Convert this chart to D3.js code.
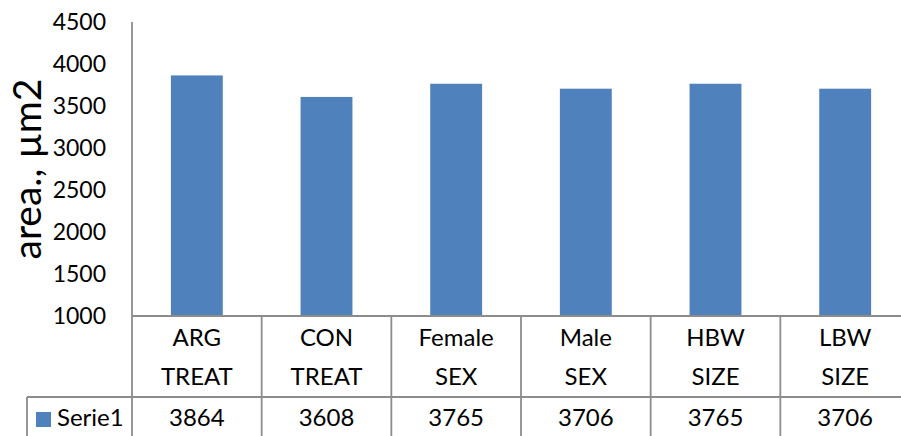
<!DOCTYPE html>
<html>
<head>
<meta charset="utf-8">
<script src="https://cdn.jsdelivr.net/npm/d3@7/dist/d3.min.js"></script>
<style>
  html, body { margin: 0; padding: 0; background: #fff; overflow: hidden; }
  svg text { font-family: Lato, "Open Sans", sans-serif; fill: #000; }
</style>
</head>
<body>
<svg id="chart" width="901" height="436"></svg>
<script>
// Bar labels (first line), factor names (second line) and mean areas
const categories = ["ARG", "CON", "Female", "Male", "HBW", "LBW"];
const factors = ["TREAT", "TREAT", "SEX", "SEX", "SIZE", "SIZE"];
const values = [3864, 3608, 3765, 3706, 3765, 3706];
const seriesName = "Serie1";
const yTicks = [1000, 1500, 2000, 2500, 3000, 3500, 4000, 4500];

const svg = d3.select("#chart");
const plotLeft = 132, plotRight = 910, plotTop = 22, plotBottom = 316;
const row1 = 397, tableBottom = 470;
const legendLeft = 27;
const gridColor = "#8c8c8c";
const barColor = "#4f81bd";
const labelSize = "24px";

const x = d3.scaleBand().domain(d3.range(categories.length)).range([plotLeft, plotRight]).paddingInner(0.6).paddingOuter(0.3);
const xCell = d3.scaleBand().domain(d3.range(categories.length)).range([plotLeft, plotRight]);
const y = d3.scaleLinear().domain([1000, 4500]).range([plotBottom, plotTop]);

// Bars
svg.append("g").selectAll("rect").data(values).join("rect")
  .attr("x", (d, i) => x(i))
  .attr("width", x.bandwidth())
  .attr("y", d => y(d))
  .attr("height", d => y(1000) - y(d))
  .attr("fill", barColor);

// Value axis with labels only
const yAxis = svg.append("g").attr("transform", `translate(${plotLeft},0)`)
  .call(d3.axisLeft(y).tickValues(yTicks).tickFormat(d3.format("d")).tickSize(0).tickPadding(26));
yAxis.select(".domain").remove();
yAxis.selectAll("text").style("font-size", "23px").style("font-family", "Lato, sans-serif");

// Axis title
svg.append("text")
  .attr("transform", `translate(41,${(plotTop + plotBottom) / 2}) rotate(-90)`)
  .attr("text-anchor", "middle")
  .style("font-size", "39px")
  .text("area., \u00b5m2");

// Data table lines
const lines = svg.append("g").attr("stroke", gridColor).attr("stroke-width", 1.8).attr("fill", "none");
lines.append("line").attr("x1", plotLeft).attr("x2", plotLeft).attr("y1", plotTop).attr("y2", tableBottom);
lines.append("line").attr("x1", plotLeft).attr("x2", plotRight).attr("y1", plotBottom).attr("y2", plotBottom);
lines.append("line").attr("x1", legendLeft).attr("x2", plotRight).attr("y1", row1).attr("y2", row1);
lines.append("line").attr("x1", legendLeft).attr("x2", legendLeft).attr("y1", row1).attr("y2", tableBottom);
lines.selectAll(".col").data(d3.range(1, categories.length + 1)).join("line")
  .attr("class", "col")
  .attr("x1", i => xCell(i - 1) + xCell.bandwidth())
  .attr("x2", i => xCell(i - 1) + xCell.bandwidth())
  .attr("y1", plotBottom).attr("y2", tableBottom);

// Category labels (two lines) and values row
const cells = svg.append("g").selectAll("g").data(categories).join("g")
  .attr("transform", (d, i) => `translate(${xCell(i) + xCell.bandwidth() / 2},0)`)
  .attr("text-anchor", "middle")
  .style("font-size", labelSize);
cells.append("text").attr("y", 338).attr("dy", "0.35em").text(d => d);
cells.append("text").attr("y", 377).attr("dy", "0.35em").text((d, i) => factors[i]);
cells.append("text").attr("y", 418).attr("dy", "0.35em").text((d, i) => values[i]);

// Legend key in the table
svg.append("rect").attr("x", 36).attr("y", 412).attr("width", 15).attr("height", 15).attr("fill", barColor);
svg.append("text").attr("x", 57).attr("y", 418).attr("dy", "0.35em")
  .style("font-size", labelSize).text(seriesName);
</script>
</body>
</html>
